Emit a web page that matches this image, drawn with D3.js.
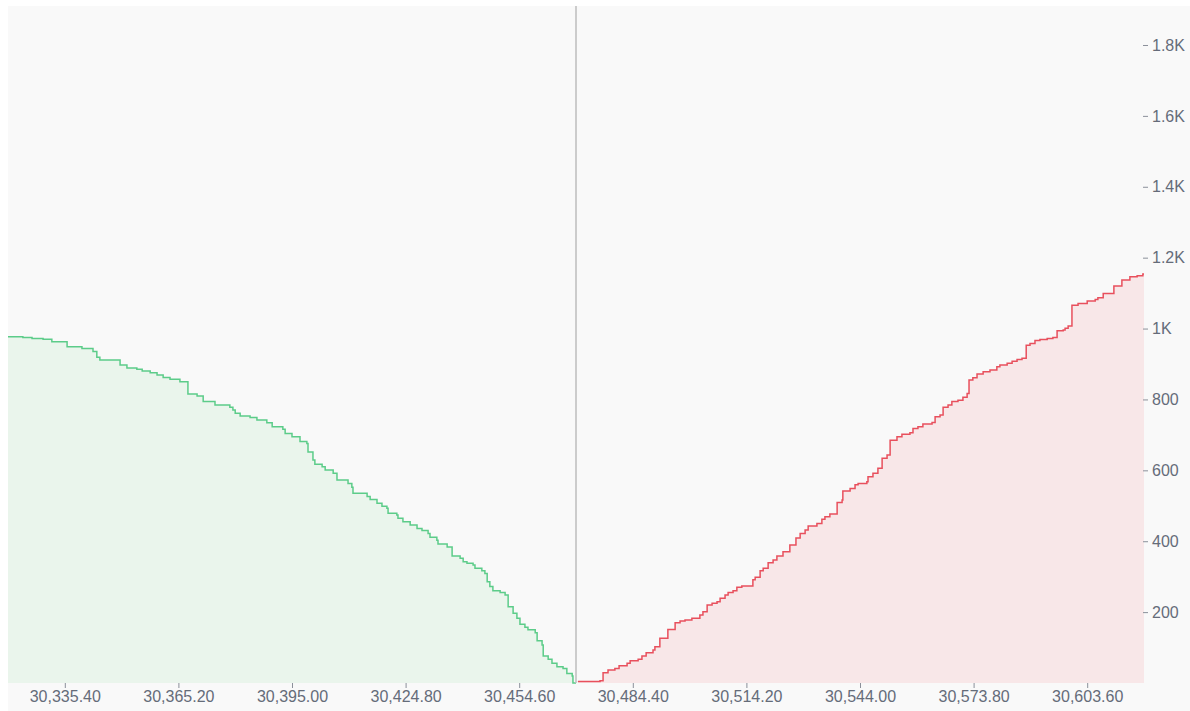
<!DOCTYPE html>
<html>
<head>
<meta charset="utf-8">
<script src="https://cdn.jsdelivr.net/npm/d3@7"></script>
<style>
  body { margin: 0; background: #ffffff; }
  svg { display: block; font-family: "Liberation Sans", Arial, sans-serif; }
</style>
</head>
<body>
<svg id="chart"></svg>
<script>
const svgWidth = 1190;
const svgHeight = 711;
const margin = { top: 6, right: 46, bottom: 28, left: 8 };
const width = svgWidth - margin.left - margin.right;
const height = svgHeight - margin.top - margin.bottom;

const priceDomain = [30320.5, 30618.5];
const midPrice = 30469.5;
const maxTotal = 1910;

// bid side, cumulative size (each level holds until the next price)
const bidPrices = [
  30320.5, 30324.4, 30326.8, 30329.7, 30332.0, 30336.0, 30339.9, 30342.8, 30343.8, 30344.6,
  30349.9, 30351.7, 30354.3, 30355.7, 30357.8, 30359.6, 30361.2, 30363.0, 30365.6, 30367.7,
  30370.1, 30371.7, 30374.8, 30378.7, 30379.5, 30380.1, 30381.4, 30384.0, 30385.8, 30388.4,
  30389.8, 30392.6, 30393.2, 30395.0, 30397.1, 30398.9, 30399.2, 30400.5, 30401.0, 30402.9,
  30403.7, 30405.8, 30406.8, 30409.7, 30410.7, 30411.0, 30414.7, 30415.5, 30417.3, 30418.6,
  30419.9, 30420.2, 30422.5, 30422.8, 30424.1, 30426.0, 30427.8, 30429.1, 30430.7, 30431.2,
  30433.0, 30433.3, 30435.7, 30437.0, 30439.1, 30439.9, 30440.9, 30442.5, 30443.0, 30444.8,
  30445.6, 30446.2, 30446.9, 30447.7, 30449.6, 30450.9, 30451.7, 30453.0, 30454.0, 30454.8,
  30456.1, 30456.9, 30458.8, 30459.3, 30460.6, 30460.9, 30462.2, 30463.2, 30464.5, 30466.1,
  30467.1, 30468.5, 30468.7, 30469.5
];
const bidTotals = [
  977, 975, 972, 970, 963, 949, 944, 935, 919, 911,
  897, 889, 885, 880, 875, 869, 862, 857, 850, 815,
  810, 794, 784, 778, 770, 761, 753, 749, 742, 734,
  723, 716, 704, 695, 681, 676, 652, 629, 617, 610,
  601, 592, 573, 563, 552, 535, 526, 518, 507, 499,
  493, 479, 474, 465, 455, 446, 436, 430, 422, 411,
  403, 392, 384, 358, 352, 342, 338, 333, 324, 317,
  309, 286, 272, 260, 255, 248, 215, 197, 183, 166,
  157, 150, 142, 119, 107, 76, 67, 56, 46, 41,
  27, 20, 0, 0
];

// ask side, cumulative size
const askPrices = [
  30470.0, 30475.8, 30476.6, 30477.9, 30479.7, 30480.8, 30482.9, 30483.7, 30485.8, 30486.8,
  30487.9, 30489.7, 30490.2, 30491.5, 30493.6, 30495.5, 30496.8, 30498.1, 30499.9, 30502.0,
  30502.8, 30503.9, 30505.2, 30506.5, 30507.3, 30508.6, 30509.4, 30510.7, 30511.7, 30513.0,
  30515.9, 30516.5, 30517.8, 30518.6, 30519.9, 30521.2, 30522.2, 30523.8, 30525.6, 30527.2,
  30528.3, 30529.6, 30530.4, 30532.7, 30534.0, 30534.8, 30536.1, 30538.0, 30539.3, 30539.5,
  30541.4, 30542.7, 30543.5, 30545.8, 30546.1, 30547.4, 30548.7, 30549.8, 30551.1, 30551.9,
  30553.7, 30555.0, 30557.1, 30557.9, 30559.2, 30560.5, 30562.9, 30563.7, 30565.0, 30565.8,
  30567.1, 30568.1, 30569.7, 30571.0, 30572.1, 30572.6, 30573.6, 30574.7, 30576.3, 30578.1,
  30579.9, 30580.7, 30582.6, 30583.9, 30585.2, 30586.5, 30587.6, 30588.6, 30589.9, 30591.2,
  30593.1, 30594.6, 30595.7, 30597.3, 30597.8, 30598.6, 30599.6, 30601.2, 30603.6, 30605.7,
  30606.4, 30607.8, 30610.6, 30612.7, 30614.8, 30616.7, 30618.2, 30618.5
];
const askTotals = [
  4, 6, 29, 37, 41, 49, 56, 63, 67, 76,
  85, 93, 102, 126, 151, 170, 175, 178, 183, 192,
  201, 220, 225, 229, 239, 248, 255, 260, 270, 274,
  291, 298, 317, 324, 339, 347, 358, 370, 389, 409,
  422, 432, 443, 450, 462, 469, 477, 509, 516, 542,
  549, 559, 563, 568, 582, 592, 606, 634, 643, 685,
  695, 702, 706, 718, 723, 731, 735, 751, 756, 778,
  784, 794, 798, 806, 817, 855, 861, 872, 878, 883,
  892, 897, 902, 908, 913, 916, 953, 958, 966, 969,
  972, 975, 994, 996, 1001, 1007, 1066, 1071, 1078, 1082,
  1087, 1099, 1120, 1137, 1146, 1149, 1154, 1154
];

const xTicks = [30335.4, 30365.2, 30395.0, 30424.8, 30454.6, 30484.4, 30514.2, 30544.0, 30573.8, 30603.6];
const yTicks = [200, 400, 600, 800, 1000, 1200, 1400, 1600, 1800];

const bids = bidPrices.map((p, i) => ({ price: p, total: bidTotals[i] }));
const asks = askPrices.map((p, i) => ({ price: p, total: askTotals[i] }));

const svg = d3.select("#chart")
  .attr("width", svgWidth)
  .attr("height", svgHeight);

svg.append("rect")
  .attr("x", margin.left)
  .attr("y", margin.top)
  .attr("width", svgWidth - margin.left)
  .attr("height", svgHeight - margin.top)
  .attr("fill", "#f9f9f9");

const g = svg.append("g")
  .attr("transform", "translate(" + margin.left + "," + margin.top + ")");

const x = d3.scaleLinear().domain(priceDomain).range([0, width]);
const y = d3.scaleLinear().domain([0, maxTotal]).range([height, 0]);

const area = d3.area()
  .curve(d3.curveStepAfter)
  .x(d => x(d.price))
  .y0(y(0))
  .y1(d => y(d.total));

const line = d3.line()
  .curve(d3.curveStepAfter)
  .x(d => x(d.price))
  .y(d => y(d.total));

const sides = [
  { data: bids, fill: "#eaf5ec", stroke: "#5ccc89" },
  { data: asks, fill: "#f8e7e8", stroke: "#e8505d" }
];

sides.forEach(s => {
  g.append("path")
    .datum(s.data)
    .attr("fill", s.fill)
    .attr("d", area);
  g.append("path")
    .datum(s.data)
    .attr("fill", "none")
    .attr("stroke", s.stroke)
    .attr("stroke-width", 1.5)
    .attr("d", line);
});

// mid price
g.append("line")
  .attr("x1", x(midPrice))
  .attr("x2", x(midPrice))
  .attr("y1", 0)
  .attr("y2", height)
  .attr("stroke", "#bdbdbd")
  .attr("stroke-width", 1.5);

const xAxis = g.append("g")
  .attr("transform", "translate(0," + height + ")")
  .call(d3.axisBottom(x).tickValues(xTicks).tickFormat(d3.format(",.2f")).tickSize(5).tickPadding(3));

const yAxis = g.append("g")
  .attr("transform", "translate(" + (width - 1) + ",0)")
  .call(d3.axisRight(y).tickValues(yTicks)
    .tickFormat(d => d >= 1000 ? (d / 1000) + "K" : d)
    .tickSize(5).tickPadding(4));

[xAxis, yAxis].forEach(a => {
  a.select(".domain").remove();
  a.selectAll(".tick line").attr("stroke", "#8b909a");
  a.selectAll(".tick text")
    .attr("fill", "#656c79")
    .style("font-size", "16px")
    .style("font-family", "\"Liberation Sans\", Arial, sans-serif");
});
</script>
</body>
</html>
